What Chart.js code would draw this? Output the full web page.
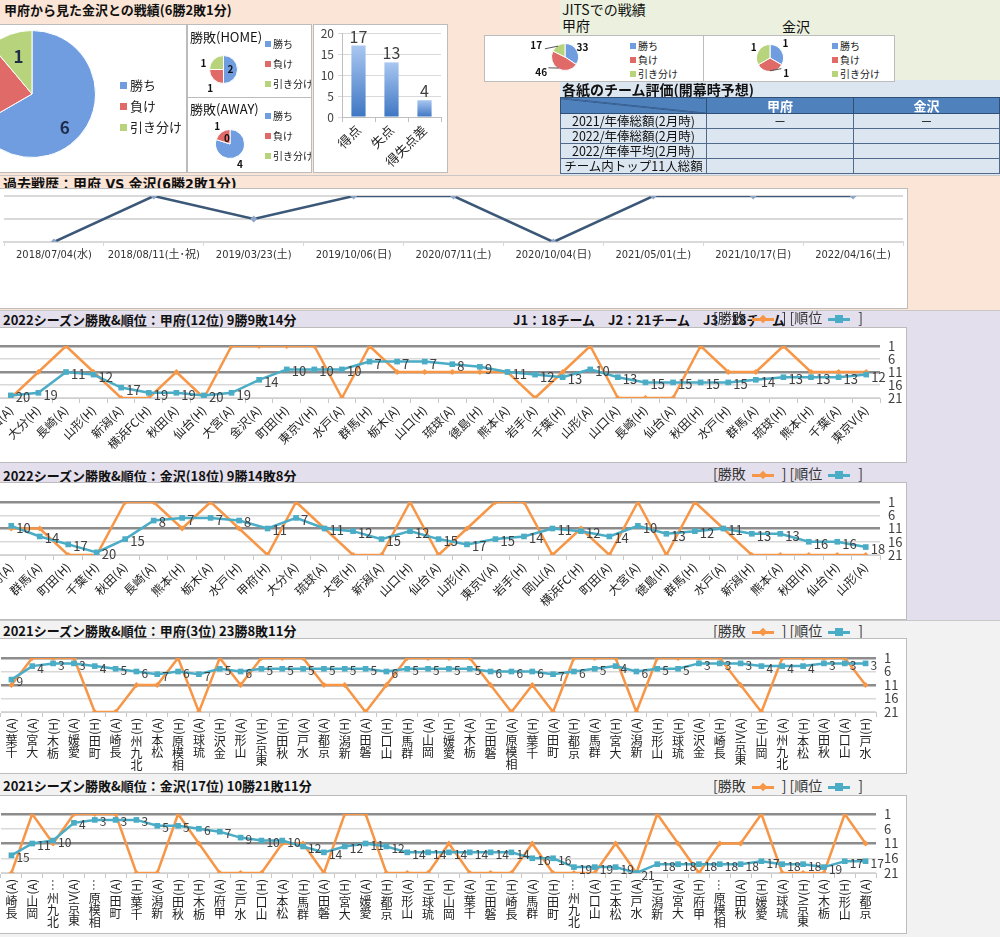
<!DOCTYPE html>
<html lang="ja">
<head>
<meta charset="utf-8">
<title>甲府 vs 金沢 戦績</title>
<script src="https://cdn.jsdelivr.net/npm/chart.js@4.4.1/dist/chart.umd.min.js"></script>
<style>
  html, body { margin: 0; padding: 0; }
  body { font-family: "Noto Sans CJK JP", "Noto Sans", sans-serif; color: #111; }
  #page { position: relative; width: 1000px; height: 937px; overflow: hidden; background: #f2f2f2; }
  .sec, .box, .txt, canvas, .lg { position: absolute; }
  .box { background: #fff; border: 1px solid #bcbcbc; box-sizing: border-box; overflow: hidden; }
  .txt { white-space: nowrap; line-height: 1; }
  .title { font-weight: bold; font-size: 13px; }
  .narrow { font-family: "Liberation Sans Narrow", "DejaVu Sans Condensed", "Noto Sans CJK JP", sans-serif; }
  .lg { white-space: nowrap; color: #222; line-height: 1; }
  .lg div { height: 21px; }
  .lg i { display: inline-block; width: 7px; height: 7px; margin-right: 3px; vertical-align: 1px; }
  .lg.small { font-size: 10px; }
  .lg.small div { height: 20px; }
  .lg.small i { width: 6px; height: 6px; margin-right: 2px; }
  .series { font-size: 14px; color: #333; }
  .ico { display: inline-block; position: relative; width: 22px; height: 3px; vertical-align: middle; margin: 0 8px 0 6px; }
  .ico::after { content: ""; position: absolute; background: inherit; }
  .ico.o { background: #f79646; }
  .ico.o::after { left: 8px; top: -2px; width: 6px; height: 6px; transform: rotate(45deg); }
  .ico.t { background: #4bacc6; }
  .ico.t::after { left: 7px; top: -3px; width: 8px; height: 8px; }
  table.eval { position: absolute; left: 560px; top: 97px; width: 439px; border-collapse: collapse; table-layout: fixed; font-size: 12.5px; }
  table.eval th, table.eval td { padding: 0; height: 14px; line-height: 14px; text-align: center; white-space: nowrap; overflow: hidden; }
  table.eval th { background: #4f81bd; color: #fff; border: 1px solid #2f4f75; font-weight: bold; font-size: 13px; height: 15px; }
  table.eval td { background: #dce6f1; border: 1px solid #51698a; color: #111; }
  table.eval th.diag { background: linear-gradient(to top right, #4f81bd calc(50% - 0.8px), #1f3a5f 50%, #4f81bd calc(50% + 0.8px)); }
</style>
</head>
<body>
<div id="page">
  <div class="sec" style="left:0;top:0;width:560px;height:175px;background:#fbe5d6"></div>
  <div class="sec" style="left:560px;top:0;width:440px;height:80px;background:#ebf1de"></div>
  <div class="sec" style="left:560px;top:80px;width:440px;height:95px;background:#dce6f1"></div>
  <div class="sec" style="left:0;top:175px;width:1000px;height:135px;background:#fbe5d6;border-top:1px solid #c8c8c8"></div>
  <div class="sec" style="left:0;top:310px;width:1000px;height:310px;background:#e4dfec;border-top:1px solid #c8c8c8"></div>
  <div class="sec" style="left:0;top:620px;width:1000px;height:317px;background:#f2f2f2;border-top:1px solid #c8c8c8"></div>

  <!-- head to head -->
  <div class="txt title" style="left:4px;top:3px">甲府から見た金沢との戦績(6勝2敗1分)</div>
  <div class="box" style="left:-1px;top:24px;width:188px;height:149px">
    <canvas id="pieTotal"></canvas>
    <div class="lg" style="left:120px;top:53px;font-size:13px">
      <div><i style="background:#6f9ddf"></i>勝ち</div>
      <div><i style="background:#e06a68"></i>負け</div>
      <div><i style="background:#b7d47c"></i>引き分け</div>
    </div>
  </div>
  <div class="box" style="left:187px;top:24px;width:125px;height:74px">
    <div class="txt" style="left:2px;top:5px;font-size:13px">勝敗(HOME)</div>
    <canvas id="pieHome"></canvas>
    <div class="lg small" style="left:77px;top:14px">
      <div><i style="background:#6f9ddf"></i>勝ち</div>
      <div><i style="background:#e06a68"></i>負け</div>
      <div><i style="background:#b7d47c"></i>引き分け</div>
    </div>
  </div>
  <div class="box" style="left:187px;top:97px;width:125px;height:76px">
    <div class="txt" style="left:2px;top:4px;font-size:13px">勝敗(AWAY)</div>
    <canvas id="pieAway"></canvas>
    <div class="lg small" style="left:77px;top:13px">
      <div><i style="background:#6f9ddf"></i>勝ち</div>
      <div><i style="background:#e06a68"></i>負け</div>
      <div><i style="background:#b7d47c"></i>引き分け</div>
    </div>
  </div>
  <div class="box" style="left:313px;top:24px;width:135px;height:149px">
    <canvas id="goalBar"></canvas>
  </div>

  <!-- JITS -->
  <div class="txt" style="left:562px;top:2px;font-size:14px">JITSでの戦績</div>
  <div class="txt" style="left:562px;top:18px;font-size:14px">甲府</div>
  <div class="txt" style="left:782px;top:19px;font-size:14px">金沢</div>
  <div class="box" style="left:484px;top:35px;width:220px;height:47px">
    <canvas id="pieJitsKofu"></canvas>
    <div class="lg small" style="left:145px;top:5px">
      <div style="height:14px"><i style="background:#6f9ddf"></i>勝ち</div>
      <div style="height:14px"><i style="background:#e06a68"></i>負け</div>
      <div style="height:14px"><i style="background:#b7d47c"></i>引き分け</div>
    </div>
  </div>
  <div class="box" style="left:703px;top:35px;width:192px;height:47px">
    <canvas id="pieJitsKanazawa"></canvas>
    <div class="lg small" style="left:128px;top:5px">
      <div style="height:14px"><i style="background:#6f9ddf"></i>勝ち</div>
      <div style="height:14px"><i style="background:#e06a68"></i>負け</div>
      <div style="height:14px"><i style="background:#b7d47c"></i>引き分け</div>
    </div>
  </div>

  <!-- evaluation table -->
  <div class="txt title" style="left:562px;top:82px;font-size:14px">各紙のチーム評価(開幕時予想)</div>
  <table class="eval">
    <colgroup><col style="width:146px"><col style="width:147px"><col style="width:146px"></colgroup>
    <tr><th class="diag"></th><th>甲府</th><th>金沢</th></tr>
    <tr><td>2021/年俸総額(2月時)</td><td>－</td><td>－</td></tr>
    <tr><td>2022/年俸総額(2月時)</td><td></td><td></td></tr>
    <tr><td>2022/年俸平均(2月時)</td><td></td><td></td></tr>
    <tr><td>チーム内トップ11人総額</td><td></td><td></td></tr>
  </table>

  <!-- history -->
  <div class="txt title narrow" style="left:3px;top:177px;font-size:14px">過去戦歴：甲府 VS 金沢(6勝2敗1分)</div>
  <div class="box" style="left:-1px;top:188px;width:909px;height:121px"><canvas id="history"></canvas></div>

  <!-- 2022 Kofu -->
  <div class="txt title" style="left:3px;top:313px">2022シーズン勝敗&amp;順位：甲府(12位) 9勝9敗14分</div>
  <div class="txt title" style="left:513px;top:313px">J1：18チーム　J2：21チーム　J3：18チーム</div>
  <div class="txt series" style="left:713px;top:310px">[勝敗<span class="ico o"></span>] [順位<span class="ico t"></span>]</div>
  <div class="box" style="left:-1px;top:327px;width:908px;height:136px"><canvas id="k22"></canvas></div>

  <!-- 2022 Kanazawa -->
  <div class="txt title" style="left:3px;top:469px">2022シーズン勝敗&amp;順位：金沢(18位) 9勝14敗8分</div>
  <div class="txt series" style="left:713px;top:466px">[勝敗<span class="ico o"></span>] [順位<span class="ico t"></span>]</div>
  <div class="box" style="left:-1px;top:482px;width:908px;height:138px"><canvas id="z22"></canvas></div>

  <!-- 2021 Kofu -->
  <div class="txt title" style="left:3px;top:624px">2021シーズン勝敗&amp;順位：甲府(3位) 23勝8敗11分</div>
  <div class="txt series" style="left:713px;top:623px">[勝敗<span class="ico o"></span>] [順位<span class="ico t"></span>]</div>
  <div class="box" style="left:-1px;top:638px;width:908px;height:136px"><canvas id="k21"></canvas></div>

  <!-- 2021 Kanazawa -->
  <div class="txt title" style="left:3px;top:779px">2021シーズン勝敗&amp;順位：金沢(17位) 10勝21敗11分</div>
  <div class="txt series" style="left:713px;top:778px">[勝敗<span class="ico o"></span>] [順位<span class="ico t"></span>]</div>
  <div class="box" style="left:-1px;top:795px;width:908px;height:139px"><canvas id="z21"></canvas></div>
</div>

<script>
const pieLabels = ['勝ち', '負け', '引き分け'];
const totalRecord = [6, 2, 1];
const homeRecord = [2, 1, 1];
const awayRecord = [4, 1, 0];
const jitsKofu = [33, 46, 17];
const jitsKanazawa = [1, 1, 1];

const goalLabels = ['得点', '失点', '得失点差'];
const goalValues = [17, 13, 4];

const historyDates = ['2018/07/04(水)', '2018/08/11(土･祝)', '2019/03/23(土)', '2019/10/06(日)', '2020/07/11(土)',
  '2020/10/04(日)', '2021/05/01(土)', '2021/10/17(日)', '2022/04/16(土)'];
const historyResults = ['L', 'W', 'D', 'W', 'W', 'L', 'W', 'W', 'W'];

const rankTicks = [1, 6, 11, 16, 21];

const kofu2022Games = ['岡山(A)', '大分(H)', '長崎(A)', '山形(H)', '新潟(A)', '横浜FC(H)', '秋田(A)', '仙台(H)',
  '大宮(A)', '金沢(A)', '町田(H)', '東京V(H)', '水戸(A)', '群馬(H)', '栃木(A)', '山口(H)', '琉球(A)', '徳島(H)',
  '熊本(A)', '岩手(A)', '千葉(H)', '山形(A)', '山口(A)', '長崎(H)', '仙台(A)', '秋田(H)', '水戸(H)', '群馬(A)',
  '琉球(H)', '熊本(H)', '千葉(A)', '東京V(A)'];
const kofu2022Results = 'LDWDLLDLWWWWLWDDDDDLDWLLLWDDWDDD'.split('');
const kofu2022Ranks = [20, 19, 11, 12, 17, 19, 19, 20, 19, 14, 10, 10, 10, 7, 7, 7, 8, 9, 11, 12, 13, 10, 13, 15,
  15, 15, 15, 14, 13, 13, 13, 12];

const kanazawa2022Games = ['徳島(A)', '群馬(A)', '町田(H)', '千葉(H)', '秋田(A)', '長崎(A)', '熊本(H)', '栃木(A)',
  '水戸(H)', '甲府(H)', '大分(A)', '琉球(A)', '大宮(H)', '新潟(A)', '山口(H)', '仙台(A)', '山形(H)', '東京V(A)',
  '岩手(H)', '岡山(A)', '横浜FC(H)', '町田(A)', '大宮(A)', '徳島(H)', '群馬(H)', '水戸(A)', '新潟(H)', '熊本(A)',
  '秋田(H)', '仙台(H)', '山形(A)'];
const kanazawa2022Results = 'DDLLWWDWDLWDLLWLDWWLDLWLWDLLLLL'.split('');
const kanazawa2022Ranks = [10, 14, 17, 20, 15, 8, 7, 7, 8, 11, 7, 11, 12, 15, 12, 15, 17, 15, 14, 11, 12, 14, 10,
  13, 12, 11, 13, 13, 16, 16, 18];

const kofu2021Games = ['千葉(A)', '大宮(A)', '栃木(H)', '愛媛(A)', '町田(H)', '長崎(A)', '北九州(H)', '松本(A)',
  '相模原(H)', '琉球(A)', '金沢(H)', '山形(A)', '東京V(H)', '秋田(H)', '水戸(A)', '京都(A)', '新潟(H)', '磐田(A)',
  '山口(H)', '群馬(H)', '岡山(A)', '愛媛(H)', '栃木(A)', '磐田(H)', '相模原(A)', '千葉(H)', '町田(A)', '京都(H)',
  '群馬(A)', '大宮(H)', '新潟(A)', '山形(H)', '琉球(H)', '金沢(A)', '長崎(H)', '東京V(A)', '岡山(H)', '北九州(A)',
  '松本(H)', '秋田(A)', '山口(A)', '水戸(H)'];
const kofu2021Results = 'DWWWLLDDWLWDWWWDDLDWWWWDLDLWWWLWWWWDLWWWWD'.split('');
const kofu2021Ranks = [9, 4, 3, 3, 4, 5, 6, 7, 6, 7, 5, 6, 5, 5, 5, 5, 5, 5, 6, 5, 5, 5, 5, 6, 6, 6, 7, 6, 5, 4, 6,
  5, 5, 3, 3, 3, 4, 4, 4, 3, 3, 3];

const kanazawa2021Games = ['長崎(A)', '岡山(A)', '北九州…', '東京V(A)', '相模原…', '町田(A)', '千葉(H)', '新潟(A)',
  '秋田(H)', '栃木(H)', '甲府(A)', '水戸(H)', '山口(H)', '松本(A)', '群馬(H)', '磐田(A)', '大宮(H)', '愛媛(A)',
  '京都(H)', '山形(A)', '琉球(H)', '岡山(H)', '千葉(A)', '磐田(H)', '長崎(H)', '群馬(A)', '町田(H)', '北九州…',
  '山口(A)', '松本(H)', '水戸(A)', '新潟(H)', '大宮(A)', '甲府(H)', '相模原…', '秋田(A)', '愛媛(H)', '琉球(A)',
  '東京V(H)', '栃木(A)', '山形(H)', '京都(A)'];
const kanazawa2021Results = 'LWDWWWLLWDLLLDDLWWLLLDLLLDLLLDLWDLDDWLLLWD'.split('');
const kanazawa2021Ranks = [15, 11, 10, 4, 3, 3, 3, 5, 5, 6, 7, 9, 10, 10, 12, 14, 12, 11, 12, 14, 14, 14, 14, 14,
  14, 16, 16, 19, 19, 19, 21, 18, 18, 18, 18, 18, 17, 18, 18, 19, 17, 17];

const FONT = '"Noto Sans CJK JP", "Noto Sans", sans-serif';
const NARROW = '"Liberation Sans Narrow", "DejaVu Sans Condensed", "Noto Sans CJK JP", sans-serif';
const PIE_COLORS = ['#6f9ddf', '#e06a68', '#b7d47c'];
const ORANGE = '#f79646';
const TEAL = '#4bacc6';
const RESULT_LEVEL = { W: 1, D: 11, L: 21 };
const HISTORY_LEVEL = { W: 1, D: 0, L: -1 };

Chart.defaults.font.family = FONT;
Chart.defaults.animation = false;
Chart.defaults.plugins.legend.display = false;
Chart.defaults.plugins.tooltip.enabled = false;

// pie with number labels; spots = [radius factor, angle shift in degrees, leader line]
function pieChart(id, values, cx, cy, r, spots, labelFont, labelColor) {
  const canvas = document.getElementById(id);
  const m = 26;
  const size = Math.round(2 * r + 2 * m);
  canvas.width = size;
  canvas.height = size;
  canvas.style.left = (cx - size / 2) + 'px';
  canvas.style.top = (cy - size / 2) + 'px';
  return new Chart(canvas, {
    type: 'pie',
    data: {
      labels: pieLabels,
      datasets: [{ data: values, backgroundColor: PIE_COLORS, borderColor: '#ffffff', borderWidth: 1 }]
    },
    options: { responsive: false, layout: { padding: m } },
    plugins: [{
      id: 'sliceLabels',
      afterDatasetsDraw(chart) {
        const ctx = chart.ctx;
        ctx.save();
        ctx.font = labelFont;
        ctx.fillStyle = labelColor;
        ctx.textAlign = 'center';
        ctx.textBaseline = 'middle';
        chart.getDatasetMeta(0).data.forEach((arc, i) => {
          const [k, shift, leader] = spots[i];
          const mid = (arc.startAngle + arc.endAngle) / 2 + shift * Math.PI / 180;
          const R = arc.outerRadius;
          const lx = arc.x + Math.cos(mid) * R * k, ly = arc.y + Math.sin(mid) * R * k;
          if (leader) {
            const a0 = (arc.startAngle + arc.endAngle) / 2;
            ctx.strokeStyle = '#555';
            ctx.lineWidth = 1;
            ctx.beginPath();
            ctx.moveTo(arc.x + Math.cos(a0) * R * 0.95, arc.y + Math.sin(a0) * R * 0.95);
            ctx.lineTo(lx + (arc.x - lx) * 0.3, ly + (arc.y - ly) * 0.3);
            ctx.stroke();
          }
          ctx.fillText(values[i], lx, ly);
        });
        ctx.restore();
      }
    }]
  });
}

function goalChart() {
  const canvas = document.getElementById('goalBar');
  const W = 133, H = 147;
  canvas.width = W;
  canvas.height = H;
  new Chart(canvas, {
    type: 'bar',
    data: {
      labels: goalLabels,
      datasets: [{
        data: goalValues,
        barPercentage: 0.43,
        categoryPercentage: 1,
        backgroundColor(c) {
          const chart = c.chart;
          if (!chart.chartArea || !chart.scales.y) return '#6f9ddf';
          const y = chart.scales.y;
          const g = chart.ctx.createLinearGradient(0, y.getPixelForValue(c.raw), 0, y.getPixelForValue(0));
          g.addColorStop(0, '#a9c7f1');
          g.addColorStop(1, '#3e76c3');
          return g;
        }
      }]
    },
    options: {
      responsive: false,
      layout: { padding: { top: 8, right: 6 } },
      scales: {
        x: {
          grid: { offset: true, drawOnChartArea: false, color: '#bfbfbf', tickLength: 5 },
          border: { color: '#bfbfbf' },
          ticks: { minRotation: 45, maxRotation: 45, font: { size: 13 }, color: '#222', padding: 0 },
          afterFit(s) { s.height = H - 92; s.paddingLeft = 0; s.paddingRight = 0; }
        },
        y: {
          min: 0, max: 20,
          ticks: { stepSize: 5, font: { size: 12 }, color: '#404040', padding: 4 },
          grid: { color: '#d9d9d9', tickLength: 4 },
          border: { color: '#bfbfbf' },
          afterFit(s) { s.width = 28; s.paddingTop = 0; s.paddingBottom = 0; }
        }
      }
    },
    plugins: [{
      id: 'barValues',
      afterDatasetsDraw(chart) {
        const ctx = chart.ctx;
        ctx.save();
        ctx.font = '16px ' + FONT;
        ctx.fillStyle = '#404040';
        ctx.textAlign = 'center';
        ctx.textBaseline = 'bottom';
        chart.getDatasetMeta(0).data.forEach((bar, i) => ctx.fillText(goalValues[i], bar.x, bar.y - 1));
        ctx.restore();
      }
    }]
  });
}

function historyChart() {
  const canvas = document.getElementById('history');
  const W = 907, H = 119;
  canvas.width = W;
  canvas.height = H;
  new Chart(canvas, {
    type: 'line',
    data: {
      labels: historyDates,
      datasets: [{
        data: historyResults.map(r => HISTORY_LEVEL[r]),
        borderColor: '#3c5878',
        borderWidth: 2.5,
        pointStyle: 'rectRot',
        pointRadius: 3.5,
        pointBackgroundColor: '#8fa6c8',
        pointBorderColor: '#8fa6c8',
        pointBorderWidth: 0
      }]
    },
    options: {
      responsive: false,
      layout: { padding: { top: 7, left: 0, right: 0 } },
      scales: {
        x: {
          offset: true,
          grid: { offset: true, drawOnChartArea: false, color: '#d9d9d9', tickLength: 4 },
          border: { color: '#d9d9d9', width: 2 },
          ticks: { maxRotation: 0, autoSkip: false, font: { size: 11, family: NARROW }, color: '#333', padding: 3 },
          afterFit(s) { s.height = H - 53; s.paddingLeft = 0; s.paddingRight = 0; }
        },
        y: {
          min: -1, max: 1,
          ticks: { display: false, stepSize: 1 },
          grid: { color: '#d9d9d9', lineWidth: 2, drawTicks: false },
          border: { display: false },
          afterFit(s) { s.width = 0; s.paddingTop = 0; s.paddingBottom = 0; }
        }
      }
    }
  });
}

function rankLabels(size) {
  return {
    id: 'rankLabels',
    afterDatasetsDraw(chart) {
      const ctx = chart.ctx;
      const ds = chart.data.datasets[0].data;
      ctx.save();
      ctx.font = size + 'px ' + FONT;
      ctx.fillStyle = '#404040';
      ctx.textAlign = 'left';
      ctx.textBaseline = 'middle';
      chart.getDatasetMeta(0).data.forEach((pt, i) => ctx.fillText(ds[i], pt.x + 5, pt.y + 2));
      ctx.restore();
    }
  };
}

// category labels written bottom-to-top, kanji upright, latin runs turned
function verticalTicks(size) {
  return {
    id: 'verticalTicks',
    afterDraw(chart) {
      const xs = chart.scales.x;
      const ctx = chart.ctx;
      ctx.save();
      ctx.fillStyle = '#222';
      ctx.font = size + 'px ' + FONT;
      chart.data.labels.forEach((label, i) => {
        const x = xs.getPixelForTick(i);
        let y = xs.top + 6;
        const parts = label.match(/[\x20-\x7e…]+|[^\x20-\x7e…]/g).reverse();
        parts.forEach(p => {
          if (/[\x20-\x7e…]/.test(p)) {
            const w = ctx.measureText(p).width;
            ctx.save();
            ctx.translate(x, y + w);
            ctx.rotate(-Math.PI / 2);
            ctx.textAlign = 'left';
            ctx.textBaseline = 'middle';
            ctx.fillText(p, 0, 0);
            ctx.restore();
            y += w + 1;
          } else {
            ctx.textAlign = 'center';
            ctx.textBaseline = 'top';
            ctx.fillText(p, x, y);
            y += size;
          }
        });
      });
      ctx.restore();
    }
  };
}

function rankChart(id, games, results, ranks, area, vertical, labelSize) {
  const canvas = document.getElementById(id);
  const box = canvas.parentElement;
  const W = box.clientWidth, H = box.clientHeight;
  const shift = 20;
  const left = area.left - 1, right = area.right - 1, top = area.top - 1, bottom = area.bottom - 1;
  canvas.width = W + shift;
  canvas.height = H;
  canvas.style.left = -shift + 'px';
  canvas.style.top = '0px';
  const plugins = [rankLabels(labelSize)];
  if (vertical) plugins.push(verticalTicks(12));
  const strong = v => v === 1 || v === 11;
  new Chart(canvas, {
    type: 'line',
    data: {
      labels: games,
      datasets: [
        { label: '順位', data: ranks, borderColor: TEAL, backgroundColor: TEAL, borderWidth: 2.5,
          pointStyle: 'rect', pointRadius: 4, pointBorderWidth: 0, order: 0 },
        { label: '勝敗', data: results.map(r => RESULT_LEVEL[r]), borderColor: ORANGE, backgroundColor: ORANGE,
          borderWidth: 2.5, pointStyle: 'rectRot', pointRadius: 3, pointBorderWidth: 0, order: 1 }
      ]
    },
    options: {
      responsive: false,
      layout: { padding: { left: left + shift, top: top, right: 0, bottom: 0 } },
      scales: {
        x: {
          offset: true,
          grid: { offset: true, drawOnChartArea: false, color: '#c8c8c8', tickLength: 5 },
          border: { color: '#d0d0d0' },
          ticks: vertical ? { display: false }
            : { minRotation: 45, maxRotation: 45, autoSkip: false, font: { size: 12 }, color: '#222', padding: 0 },
          afterFit(s) { s.height = H - bottom; s.paddingLeft = 0; s.paddingRight = 0; }
        },
        y: {
          position: 'right',
          reverse: true,
          min: 1, max: 21,
          afterBuildTicks(s) { s.ticks = rankTicks.map(v => ({ value: v })); },
          ticks: { autoSkip: false, font: { size: 13 }, color: '#404040', padding: 8 },
          grid: {
            drawTicks: false,
            color: c => strong(c.tick.value) ? '#8c8c8c' : '#d9d9d9',
            lineWidth: c => strong(c.tick.value) ? 2.5 : 1.5
          },
          border: { display: false },
          afterFit(s) { s.width = W - right; s.paddingTop = 0; s.paddingBottom = 0; }
        }
      }
    },
    plugins: plugins
  });
}

pieChart('pieTotal', totalRecord, 32, 69, 64, [[0.74, 16, false], [0.7, 0, false], [0.62, 0, false]], 'bold 17px ' + FONT, '#1f2d4a');
pieChart('pieHome', homeRecord, 35, 44, 14.5, [[0.5, 0, false], [1.63, -9, false], [1.5, -27, false]], 'bold 10px ' + FONT, '#111');
pieChart('pieAway', awayRecord, 42, 46, 15, [[1.55, 10, false], [1.5, 0, false], [0.45, -27, false]], 'bold 10px ' + FONT, '#111');
pieChart('pieJitsKofu', jitsKofu, 80, 21, 14, [[1.47, 0, false], [2.1, 27, true], [2.3, -36, true]], 'bold 10px ' + FONT, '#111');
pieChart('pieJitsKanazawa', jitsKanazawa, 66, 22, 14, [[1.57, -13, false], [1.65, -47, true], [1.45, 3, false]], 'bold 10px ' + FONT, '#111');
goalChart();
historyChart();
rankChart('k22', kofu2022Games, kofu2022Results, kofu2022Ranks, { left: -2, right: 881, top: 19, bottom: 71 }, false, 13);
rankChart('z22', kanazawa2022Games, kanazawa2022Results, kanazawa2022Ranks, { left: -2, right: 881, top: 20, bottom: 73 }, false, 13);
rankChart('k21', kofu2021Games, kofu2021Results, kofu2021Ranks, { left: 2, right: 877, top: 20, bottom: 74 }, true, 12);
rankChart('z21', kanazawa2021Games, kanazawa2021Results, kanazawa2021Ranks, { left: 2, right: 877, top: 19, bottom: 78 }, true, 12);
</script>
</body>
</html>
